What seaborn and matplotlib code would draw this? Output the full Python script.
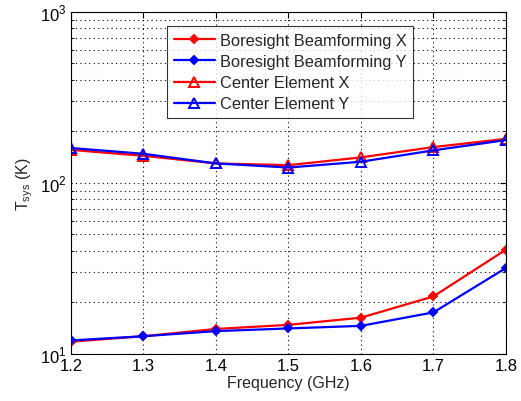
import matplotlib
matplotlib.use("Agg")
import matplotlib.pyplot as plt
import seaborn as sns
import pandas as pd
from matplotlib.ticker import LogLocator, NullFormatter

sns.set_style("white")
plt.rcParams['font.family'] = ['Liberation Sans', 'DejaVu Sans']
plt.rcParams['mathtext.fontset'] = 'custom'
plt.rcParams['mathtext.rm'] = 'Liberation Sans'

freq = [1.2, 1.3, 1.4, 1.5, 1.6, 1.7, 1.8]
bore_x = [11.8, 12.7, 14.0, 14.8, 16.3, 21.7, 40.7]
bore_y = [12.0, 12.7, 13.6, 14.1, 14.6, 17.5, 31.8]
center_x = [156, 144, 130, 127, 141, 162, 181]
center_y = [160, 148, 130, 123, 133, 155, 178]
labels = ["Boresight Beamforming X", "Boresight Beamforming Y",
          "Center Element X", "Center Element Y"]

fig = plt.figure(figsize=(5.21, 4.02), dpi=100)
ax = fig.add_axes([0.1363, 0.117, 0.8347, 0.851])

series = [
    (bore_x, labels[0], 'red', 'D', True),
    (bore_y, labels[1], 'blue', 'D', True),
    (center_x, labels[2], 'red', '^', False),
    (center_y, labels[3], 'blue', '^', False),
]
for vals, lab, col, mk, filled in series:
    df = pd.DataFrame({"f": freq, "T": vals})
    sns.lineplot(data=df, x="f", y="T", ax=ax, color=col, marker=mk,
                 markersize=4.5 if filled else 7, linewidth=1.6, label=lab,
                 markerfacecolor=col if filled else 'none',
                 markeredgecolor=col, markeredgewidth=1.4)

ax.set_yscale('log')
ax.set_xlim(1.2, 1.8)
ax.set_ylim(10, 1000)
ax.set_xticks(freq)
ax.set_xticklabels([f"{f:.1f}" for f in freq])
ax.yaxis.set_minor_locator(LogLocator(base=10, subs=range(2, 10), numticks=20))
ax.yaxis.set_minor_formatter(NullFormatter())
ax.set_yticks([10, 100, 1000])
ax.set_yticklabels([r'$10^{1}$', r'$10^{2}$', r'$10^{3}$'])

ax.grid(True, which='major', axis='both', color='black', linestyle=(0, (1, 3)), linewidth=0.8)
ax.grid(True, which='minor', axis='y', color='black', linestyle=(0, (1, 3)), linewidth=0.8)

ax.tick_params(axis='both', which='both', direction='in', labelsize=12, colors='black')
ax.tick_params(axis='both', which='major', length=4, top=True, right=True, pad=3)
ax.tick_params(axis='y', which='minor', length=2, right=True, left=True)
for s in ax.spines.values():
    s.set_color('black')
    s.set_linewidth(0.8)

ax.set_xlabel("Frequency (GHz)", fontsize=11.5, labelpad=1)
ax.set_ylabel(r"T$_{\mathrm{sys}}$ (K)", fontsize=11.5, labelpad=4)

leg = ax.legend(loc='upper left', bbox_to_anchor=(0.221, 0.958), fontsize=11.8,
                frameon=True, fancybox=False, edgecolor='black',
                handlelength=2.5, borderpad=0.4, labelspacing=0.38,
                handletextpad=0.3, borderaxespad=0)
leg.get_frame().set_linewidth(0.8)

fig.savefig("out.png", dpi=100)
